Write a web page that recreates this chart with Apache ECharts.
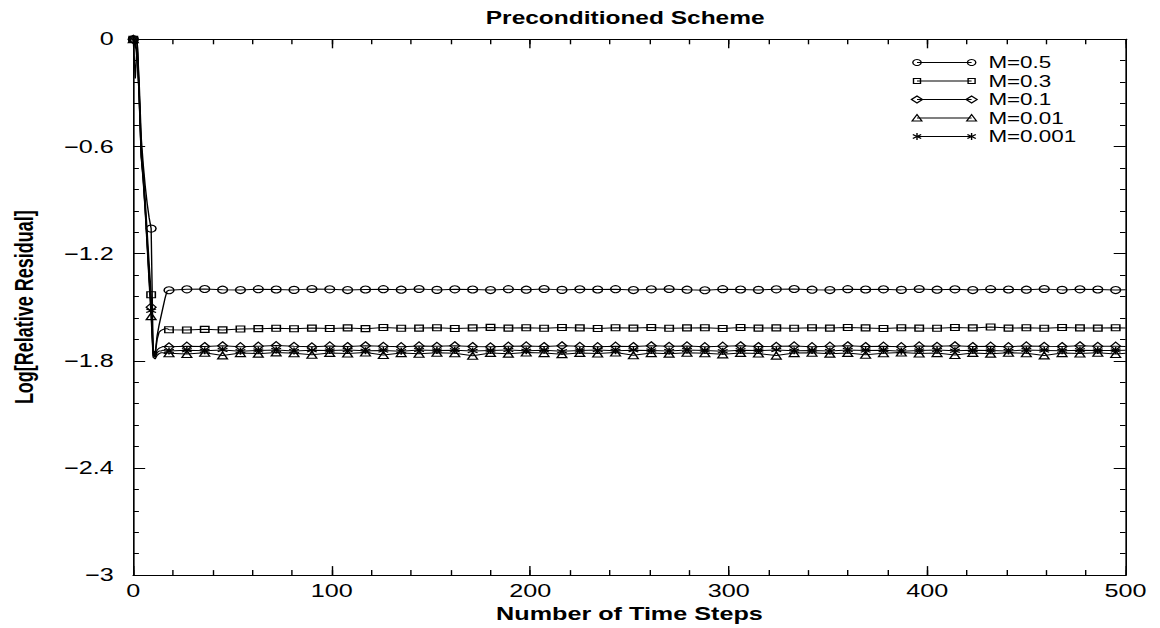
<!DOCTYPE html>
<html>
<head>
<meta charset="utf-8">
<script src="https://cdn.jsdelivr.net/npm/echarts@6/dist/echarts.min.js"></script>
<style>
html,body{margin:0;padding:0;background:#fff;overflow:hidden;width:1160px;height:628px;}
#chart{width:828.57px;height:628px;transform:scaleX(1.4);transform-origin:0 0;}
</style>
</head>
<body>
<div id="chart"></div>
<script>
// ---- data ----
const seriesNames = ['M=0.5', 'M=0.3', 'M=0.1', 'M=0.01', 'M=0.001'];
const xTickLabels = ['0', '100', '200', '300', '400', '500'];
const yTickLabels = ['0', '\u22120.6', '\u22121.2', '\u22121.8', '\u22122.4', '\u22123'];

const steps = [0,1,2,3,4,5,6,7,8,9,10,11,12,13,14,15,16,17,
  18,27,36,45,54,63,72,81,90,99,108,117,126,135,144,153,162,171,180,189,198,207,216,225,234,243,252,261,270,279,288,297,306,315,324,333,342,351,360,369,378,387,396,405,414,423,432,441,450,459,468,477,486,495,
  500];

const m05 = [0,-0.01,-0.02,-0.25,-0.55,-0.70,-0.82,-0.92,-1.00,-1.06,-1.74,-1.76,-1.66,-1.60,-1.55,-1.50,-1.45,-1.41,
  -1.405,-1.400,-1.398,-1.402,-1.404,-1.399,-1.401,-1.403,-1.398,-1.400,
  -1.404,-1.401,-1.399,-1.402,-1.398,-1.403,-1.400,-1.401,-1.404,-1.399,
  -1.402,-1.398,-1.403,-1.400,-1.401,-1.399,-1.404,-1.400,-1.398,-1.402,
  -1.405,-1.399,-1.401,-1.403,-1.400,-1.398,-1.402,-1.404,-1.399,-1.401,
  -1.400,-1.403,-1.398,-1.402,-1.400,-1.404,-1.399,-1.401,-1.402,-1.398,
  -1.403,-1.400,-1.401,-1.404,-1.402];

const m03 = [0,-0.22,-0.02,-0.30,-0.60,-0.74,-0.90,-1.08,-1.26,-1.43,-1.75,-1.77,-1.68,-1.64,-1.63,-1.625,-1.62,-1.62,
  -1.626,-1.628,-1.624,-1.627,-1.622,-1.620,-1.618,-1.621,-1.617,-1.619,
  -1.616,-1.620,-1.614,-1.618,-1.617,-1.615,-1.619,-1.616,-1.613,-1.617,
  -1.615,-1.618,-1.614,-1.616,-1.619,-1.615,-1.617,-1.614,-1.618,-1.616,
  -1.615,-1.619,-1.614,-1.617,-1.616,-1.618,-1.615,-1.617,-1.614,-1.616,
  -1.619,-1.615,-1.617,-1.618,-1.614,-1.616,-1.611,-1.617,-1.615,-1.618,
  -1.614,-1.616,-1.617,-1.615,-1.616];

const m01 = [0,-0.02,-0.12,-0.32,-0.64,-0.77,-0.94,-1.13,-1.32,-1.50,-1.76,-1.78,-1.74,-1.73,-1.725,-1.72,-1.72,-1.72,
  -1.722,-1.718,-1.720,-1.716,-1.721,-1.718,-1.715,-1.719,-1.722,-1.717,
  -1.720,-1.716,-1.719,-1.721,-1.717,-1.719,-1.716,-1.720,-1.722,-1.718,
  -1.717,-1.720,-1.716,-1.719,-1.721,-1.718,-1.720,-1.716,-1.719,-1.717,
  -1.721,-1.718,-1.716,-1.720,-1.719,-1.717,-1.721,-1.718,-1.716,-1.720,
  -1.718,-1.721,-1.717,-1.719,-1.716,-1.720,-1.718,-1.721,-1.717,-1.719,
  -1.720,-1.716,-1.719,-1.718,-1.720];

const m001 = [0,-0.01,-0.03,-0.34,-0.66,-0.79,-0.96,-1.16,-1.36,-1.55,-1.78,-1.79,-1.77,-1.76,-1.755,-1.755,-1.76,-1.755,
  -1.758,-1.762,-1.755,-1.770,-1.757,-1.760,-1.753,-1.758,-1.766,-1.756,
  -1.759,-1.754,-1.768,-1.757,-1.761,-1.755,-1.758,-1.772,-1.756,-1.760,
  -1.754,-1.757,-1.763,-1.756,-1.759,-1.754,-1.769,-1.757,-1.760,-1.755,
  -1.758,-1.764,-1.756,-1.759,-1.771,-1.757,-1.755,-1.760,-1.756,-1.766,
  -1.758,-1.754,-1.759,-1.757,-1.768,-1.756,-1.760,-1.755,-1.758,-1.770,
  -1.757,-1.759,-1.755,-1.762,-1.758];

const m0001 = [0,-0.04,-0.06,-0.33,-0.65,-0.78,-0.95,-1.14,-1.34,-1.52,-1.77,-1.78,-1.755,-1.745,-1.745,-1.74,-1.745,-1.745,
  -1.745,-1.741,-1.744,-1.739,-1.746,-1.742,-1.740,-1.745,-1.741,-1.743,
  -1.739,-1.744,-1.742,-1.746,-1.740,-1.743,-1.741,-1.745,-1.742,-1.739,
  -1.744,-1.741,-1.746,-1.742,-1.740,-1.744,-1.741,-1.743,-1.745,-1.740,
  -1.742,-1.746,-1.741,-1.743,-1.739,-1.744,-1.742,-1.745,-1.740,-1.743,
  -1.741,-1.746,-1.742,-1.739,-1.744,-1.741,-1.743,-1.745,-1.740,-1.742,
  -1.744,-1.741,-1.743,-1.742,-1.741];

const seriesValues = [m05, m03, m01, m001, m0001];

// ---- styling ----
const FONT = 'Liberation Sans, Arial, Helvetica, sans-serif';
const starPath = 'path://M5,0L5,10M0.7,2.5L9.3,7.5M0.7,7.5L9.3,2.5';
const symbols = ['circle', 'rect', 'diamond', 'triangle', starPath];
const symbolSizes = [7, 6, [7, 8], 7, 7];
const MARK_EVERY = 9;

function isMarker(i) { return steps[i] % MARK_EVERY === 0; }

const series = seriesNames.map((name, k) => ({
  name: name,
  type: 'line',
  xAxisIndex: 0,
  yAxisIndex: 0,
  data: steps.map((s, i) => [s, seriesValues[k][i]]),
  showAllSymbol: true,
  symbol: (val, params) => isMarker(params.dataIndex) ? symbols[k] : 'none',
  symbolSize: symbolSizes[k],
  lineStyle: { color: '#000', width: 1 },
  itemStyle: { color: 'rgba(0,0,0,0)', borderColor: '#000', borderWidth: 1.1 },
  emphasis: { disabled: true },
  animation: false,
  z: 2 + k
}));

// ---- legend drawn with graphic elements ----
const LX1 = 655, LX2 = 694, LTX = 706, LY0 = 62.5, LDY = 18.5;
function legendSymbol(k, x, y) {
  const st = { fill: 'none', stroke: '#000', lineWidth: 1 };
  if (k === 0) return { type: 'circle', shape: { cx: x, cy: y, r: 3 }, style: st };
  if (k === 1) return { type: 'rect', shape: { x: x - 2.5, y: y - 2.5, width: 5, height: 5 }, style: st };
  if (k === 2) return { type: 'polygon', shape: { points: [[x - 4, y], [x, y - 3.5], [x + 4, y], [x, y + 3.5]] }, style: st };
  if (k === 3) return { type: 'polygon', shape: { points: [[x - 3.5, y + 3], [x, y - 3.5], [x + 3.5, y + 3]] }, style: st };
  return {
    type: 'group', children: [
      { type: 'line', shape: { x1: x, y1: y - 3.5, x2: x, y2: y + 3.5 }, style: st },
      { type: 'line', shape: { x1: x - 3, y1: y - 2, x2: x + 3, y2: y + 2 }, style: st },
      { type: 'line', shape: { x1: x - 3, y1: y + 2, x2: x + 3, y2: y - 2 }, style: st }
    ]
  };
}
const graphics = [];
seriesNames.forEach((name, k) => {
  const y = LY0 + k * LDY;
  graphics.push({ type: 'line', shape: { x1: LX1, y1: y, x2: LX2, y2: y }, style: { stroke: '#000', lineWidth: 1 } });
  graphics.push(legendSymbol(k, LX1, y));
  graphics.push(legendSymbol(k, LX2, y));
  graphics.push({ type: 'text', x: LTX, y: y, style: { text: name, fontSize: 16, fontFamily: FONT, fill: '#000', verticalAlign: 'middle', align: 'left' } });
});

function fmtY(v) {
  const idx = Math.round(-v / 0.6);
  return yTickLabels[idx] !== undefined ? yTickLabels[idx] : String(v);
}
function fmtX(v) {
  const idx = Math.round(v / 100);
  return xTickLabels[idx] !== undefined ? xTickLabels[idx] : String(v);
}

const axisLineStyle = { show: true, onZero: false, lineStyle: { color: '#000', width: 1 } };
function xAx(pos, interval, len, extra) {
  return Object.assign({
    type: 'value', min: 0, max: 500, interval: interval, position: pos,
    axisLine: axisLineStyle,
    axisTick: { show: true, inside: true, length: len, lineStyle: { color: '#000', width: 1 } },
    axisLabel: { show: false },
    splitLine: { show: false }
  }, extra || {});
}
function yAx(pos, interval, len, extra) {
  return Object.assign({
    type: 'value', min: -3, max: 0, interval: interval, position: pos,
    axisLine: axisLineStyle,
    axisTick: { show: true, inside: true, length: len, lineStyle: { color: '#000', width: 1 } },
    axisLabel: { show: false },
    splitLine: { show: false }
  }, extra || {});
}

const option = {
  backgroundColor: '#fff',
  animation: false,
  title: {
    text: 'Preconditioned Scheme',
    left: 347, top: 9, padding: 0,
    textStyle: { fontSize: 17.5, fontWeight: 'bold', fontFamily: FONT, color: '#000' }
  },
  grid: { left: 95.2, right: 25, top: 39.3, bottom: 49.7, containLabel: false },
  xAxis: [
    xAx('bottom', 100, 9, {
      axisLabel: { show: true, margin: 7, fontSize: 18, fontFamily: FONT, color: '#000', formatter: fmtX },
      name: 'Number of Time Steps', nameLocation: 'middle', nameGap: 29,
      nameTextStyle: { fontSize: 18, fontWeight: 'bold', fontFamily: FONT, color: '#000' }
    }),
    xAx('bottom', 20, 5),
    xAx('top', 100, 9),
    xAx('top', 20, 5)
  ],
  yAxis: [
    yAx('left', 0.6, 8.5, {
      axisLabel: { show: true, margin: 14, fontSize: 18, fontFamily: FONT, color: '#000', formatter: fmtY },
      name: 'Log[Relative Residual]', nameLocation: 'middle', nameGap: 69, nameRotate: 90,
      nameTextStyle: { fontSize: 18, fontWeight: 'bold', fontFamily: FONT, color: '#000' }
    }),
    yAx('left', 0.12, 4),
    yAx('right', 0.6, 8.5),
    yAx('right', 0.12, 4)
  ],
  graphic: graphics,
  series: series
};

const chart = echarts.init(document.getElementById('chart'), null, { renderer: 'svg' });
chart.setOption(option);
</script>
</body>
</html>
